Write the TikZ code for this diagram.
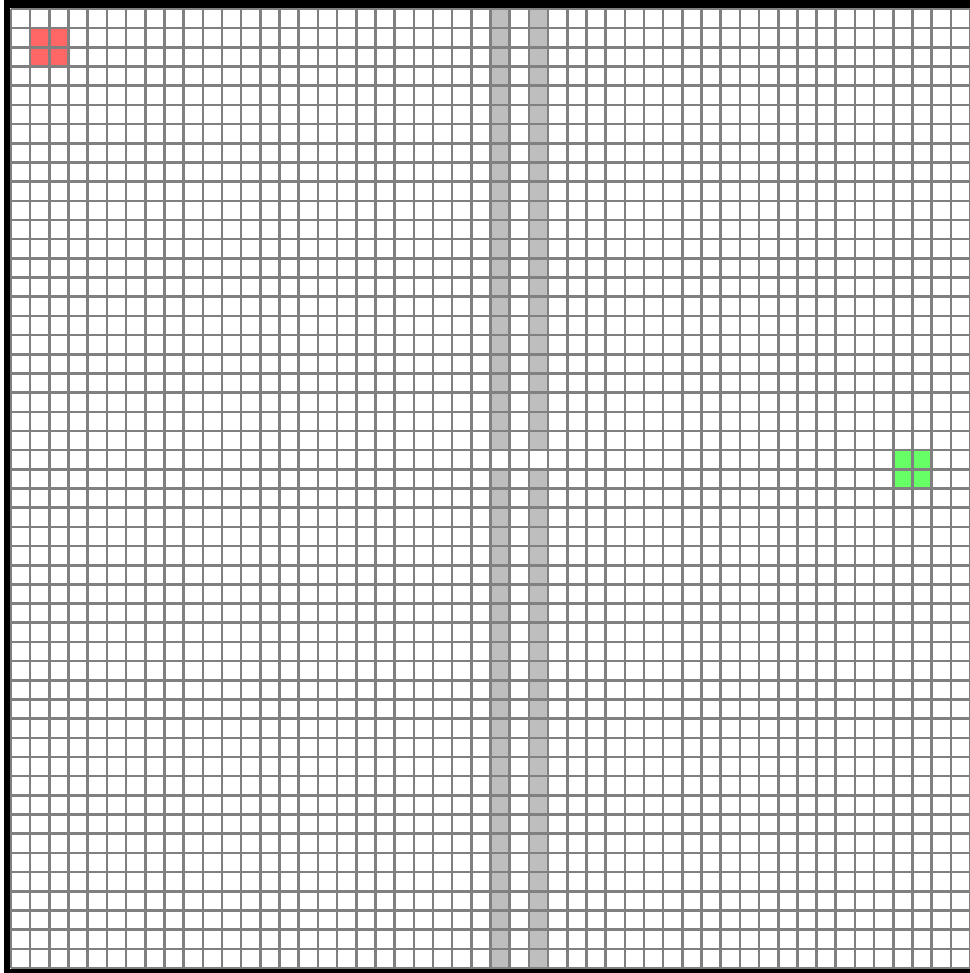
\documentclass[tikz,border=0pt]{standalone}
\usetikzlibrary{positioning}
\definecolor{gridLine}{RGB}{128,128,128}
\definecolor{wallGray}{RGB}{190,190,190}
\definecolor{startRed}{RGB}{255,102,102}
\definecolor{goalGreen}{RGB}{102,255,102}
\tikzset{
  wallcell/.style={fill=wallGray},
  startcell/.style={fill=startRed},
  goalcell/.style={fill=goalGreen},
  gridline/.style={draw=gridLine, line width=1.9pt},
  frameband/.style={fill=black}
}
\begin{document}
\begin{tikzpicture}[x=0.5cm, y=-0.5cm]
  \useasboundingbox (-0.5735,-0.469) rectangle (49.95,50.26);
  % frame
  \fill[frameband] (-0.365,-0.469) rectangle (50.5,-0.052);
  \fill[frameband] (-0.365,-0.469) rectangle (-0.052,50.26);
  \fill[frameband] (-0.365,50.05) rectangle (50.5,50.26);
  % walls with one gap
  \foreach \c in {25,27} {
    \fill[wallcell] (\c,0) rectangle ++(1,23);
    \fill[wallcell] (\c,24) rectangle ++(1,26);
  }
  % start and goal
  \fill[startcell] (1,1) rectangle (3,3);
  \fill[goalcell] (46,23) rectangle (48,25);
  % grid
  \foreach \i in {0,...,50} {
    \draw[gridline] (\i,0) -- (\i,50);
    \draw[gridline] (0,\i) -- (50,\i);
  }
\end{tikzpicture}
\end{document}
